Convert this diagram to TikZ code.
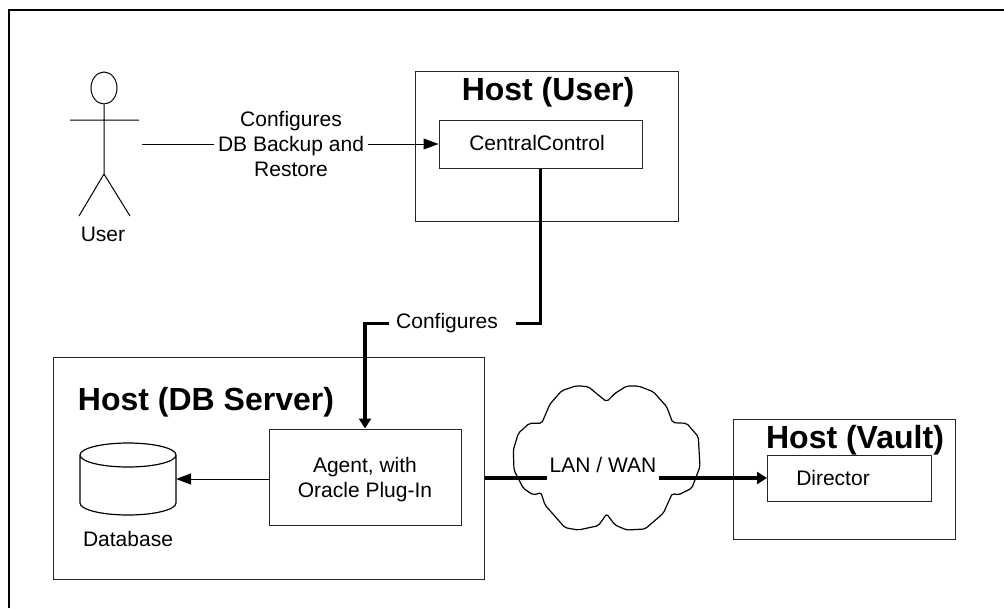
\documentclass[tikz,border=0pt]{standalone}
\usepackage{fontspec}
\setmainfont{Liberation Sans}
\usetikzlibrary{arrows.meta,shapes.geometric}
\tikzset{
	hostbox/.style={draw=black!85,line width=1pt,inner sep=0pt},
	txt/.style={font=\fontsize{21}{25}\selectfont,align=center,inner sep=0pt},
	title/.style={font=\fontsize{32}{36}\selectfont\bfseries,inner sep=0pt},
	thinline/.style={line width=1pt,-{Stealth[inset=0pt,length=15pt,width=11pt]}},
	heavyline/.style={line width=3.6pt},
	heavytip/.style={-{Stealth[inset=0pt,length=10pt,width=12pt]}}
}
\begin{document}
\begin{tikzpicture}[x=1pt,y=-1pt]
	\useasboundingbox (0,0) rectangle (1004,608);
	\draw[line width=2pt] (9,608)--(9,10)--(1004,10);
	\foreach \x/\y/\w/\h/\nam in {546.5/146.5/263/150/hostuser,
		540.5/144/203/48/central, 268.5/468/431/222/hostdb,
		365/477/192/96/agent,
		844/479/222/120/hostvault, 849.5/478/164/46/director}
	\node[hostbox,minimum width=\w pt,minimum height=\h pt] (\nam) at (\x,\y) {};
	\foreach \x/\y/\texn/\nam in {548/92.5/Host (User)/titleuser,
		206/402.5/Host (DB Server)/titledb, 855/440.5/Host (Vault)/titlevault}
	\node[title] (\nam) at (\x,\y) {\texn};
	\foreach \x/\y/\texn/\nam in {103/234/User/userlabel,
		537/143/CentralControl/centrallabel, 833/478/Director/directorlabel,
		128/539/Database/dblabel}
	\node[txt] (\nam) at (\x,\y) {\texn};
	\node[txt] (agentlabel) at (365,479.5) {Agent, with\\Oracle Plug-In};
	\node[draw,line width=1pt,ellipse,inner sep=0pt,minimum width=26pt,
	minimum height=32pt] (head) at (104,88) {};
	\coordinate (crotch) at (104,174);
	\draw[line width=1pt] (head.south)--(crotch)
	(70,120)--(139,120) (79,216)--(crotch)--(130,216);
	\node[minimum width=96pt,minimum height=72pt,inner sep=0pt,outer sep=0pt] (db) at (128,479) {};
	\draw[line width=1.2pt] ([yshift=-12pt]db.north) ellipse [x radius=48pt,y radius=12pt]
	([yshift=-12pt]db.north west)--([yshift=12pt]db.south west)
	arc [start angle=180,end angle=360,x radius=48pt,y radius=12pt]
	--([yshift=-12pt]db.north east);
	\draw[thinline] (agent.west |- db.east)--(db.east);
	\coordinate (userend) at (142,144);
	\node[txt,inner xsep=4pt] (cfgbackup) at (291,143.5)
	{Configures\\DB Backup and\\Restore};
	\draw[line width=1pt] (userend)--(cfgbackup.west |- userend);
	\draw[thinline] (cfgbackup.east |- userend)--(central.west);
	\node[txt,inner xsep=7pt] (cfg) at (447,323.5) {Configures};
	\coordinate (cfgright) at ([xshift=11pt]cfg.east);
	\draw[heavyline] (central.south) |- (cfgright);
	\draw[heavyline,heavytip] (cfg.west) -| (agent.north);
	\draw[line width=1.2pt,rounded corners=2pt] (606.7,401.7)--(598.3,395)--(588.3,386.7)
	--(576.7,385.7)--(561.7,390.7)--(550,404)--(541.7,423.3)--(529.3,423.3)
	--(518.3,433.3)--(513.3,450)--(514,470)--(523.3,488.3)--(533.3,495)
	--(541,492.7)--(545,505)--(565,527.7)--(578.3,530)--(598.3,525.7)
	--(606.7,514)--(615,525)--(626.7,530)--(645,529)--(663.3,513.3)
	--(672.3,493.3)--(678.3,495)--(691.7,488.3)--(700,466.7)--(698.3,436.7)
	--(686.7,423.3)--(672.7,422.7)--(666.7,406.7)--(653.3,391.7)--(638.3,386)
	--(626.7,386)--(615,393.3)--cycle;
	\node[txt,inner xsep=3pt,minimum height=30pt] (lan) at (603,465) {LAN / WAN};
	\draw[heavyline] (hostdb.east |- director.west)--(lan.west |- director.west);
	\draw[heavyline,heavytip] (lan.east |- director.west)--(director.west);
\end{tikzpicture}
\end{document}
